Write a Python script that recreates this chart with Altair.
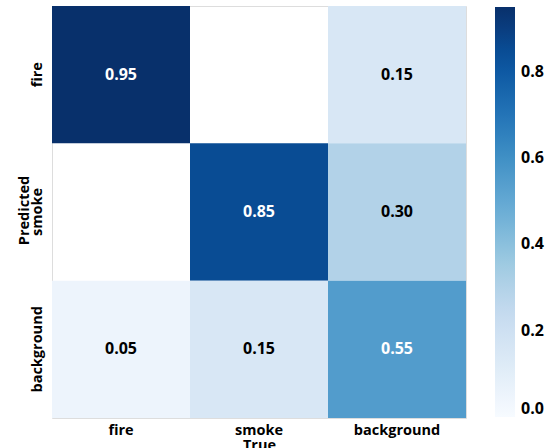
import altair as alt
import pandas as pd

# Confusion matrix: rows are predicted classes, columns are true classes.
classes = ["fire", "smoke", "background"]
predicted_fire = [0.95, None, 0.15]
predicted_smoke = [None, 0.85, 0.30]
predicted_background = [0.05, 0.15, 0.55]

# Matplotlib-style "Blues" colormap stops and the colorbar range.
blues = ["#f7fbff", "#deebf7", "#c6dbef", "#9ecae1", "#6baed6",
         "#4292c6", "#2171b5", "#08519c", "#08306b"]
vmin, vmax = 0.0, 0.95
colorbar_ticks = [0.0, 0.2, 0.4, 0.6, 0.8]

rows = []
for pred, series in zip(classes, [predicted_fire, predicted_smoke, predicted_background]):
    for true, v in zip(classes, series):
        if v is not None:
            rows.append({"true": true, "pred": pred, "value": v})
df = pd.DataFrame(rows)

stops = [vmin + (vmax - vmin) * i / (len(blues) - 1) for i in range(len(blues))]

FONT = "Open Sans"

x_enc = alt.X(
    "true:N", sort=classes,
    scale=alt.Scale(paddingInner=0, paddingOuter=0),
    axis=alt.Axis(
        orient="bottom", labelAngle=0, ticks=False, domain=False, grid=False,
        labelFont=FONT, labelFontSize=14.5, labelFontWeight="bold", labelColor="black",
        labelBaseline="alphabetic", labelPadding=16,
        title="True", titleFont=FONT, titleFontSize=14.5, titleFontWeight="bold",
        titleColor="black", titleX=207, titleY=31, titleBaseline="alphabetic",
        titleAlign="center",
    ),
)
y_enc = alt.Y(
    "pred:N", sort=classes,
    scale=alt.Scale(paddingInner=0, paddingOuter=0),
    axis=alt.Axis(
        orient="left", labelAngle=270, ticks=False, domain=False, grid=False,
        labelFont=FONT, labelFontSize=14.5, labelFontWeight="bold", labelColor="black",
        labelAlign="center", labelBaseline="alphabetic", labelPadding=11,
        title="Predicted", titleFont=FONT, titleFontSize=14.5, titleFontWeight="bold",
        titleColor="black", titleAngle=270, titleX=-24, titleY=204,
        titleBaseline="alphabetic", titleAlign="center",
    ),
)

base = alt.Chart(df).encode(x=x_enc, y=y_enc)

cells = base.mark_rect().encode(
    color=alt.Color(
        "value:Q",
        scale=alt.Scale(domain=stops, range=blues),
        legend=alt.Legend(
            title=None, orient="none", legendX=443, legendY=1, padding=0,
            direction="vertical", gradientLength=410, gradientThickness=20,
            gradientStrokeWidth=0, values=colorbar_ticks, format=".1f",
            labelFont=FONT, labelFontSize=16, labelFontWeight="bold",
            labelColor="black", labelOffset=6, labelBaseline="middle",
            labelOverlap=False,
        ),
    )
)

labels = base.mark_text(font=FONT, fontSize=16, fontWeight="bold").encode(
    text=alt.Text("value:Q", format=".2f"),
    color=alt.condition(alt.datum.value > 0.5, alt.value("white"), alt.value("black")),
)

chart = (
    (cells + labels)
    .properties(
        width=414, height=412,
        autosize=alt.AutoSizeParams(type="none"),
        padding={"left": 52, "top": 6, "right": 90, "bottom": 30},
    )
    .configure_view(stroke=None)
    .configure(background="white")
)

chart.save("out.html", embed_options={"renderer": "svg", "actions": False})
